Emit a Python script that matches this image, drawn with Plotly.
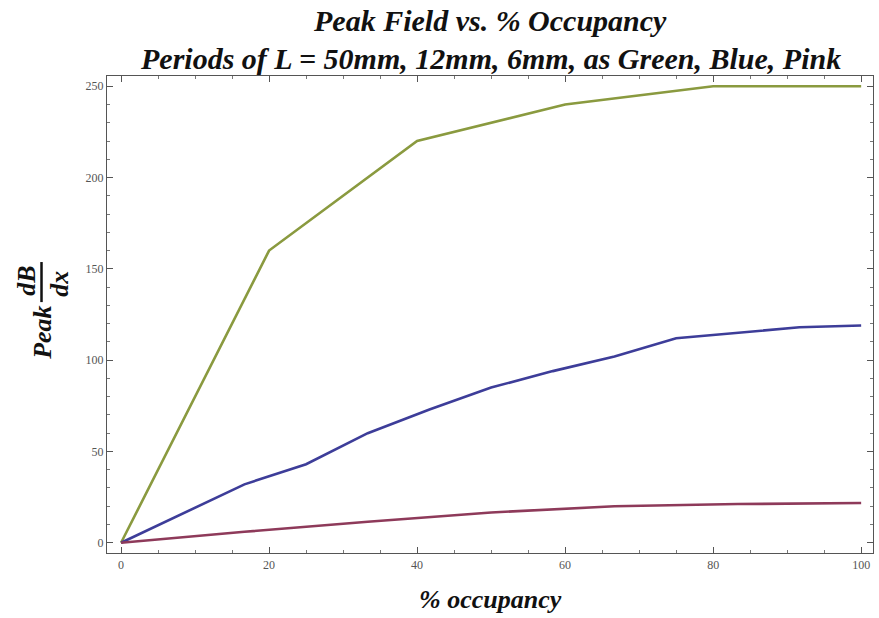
import plotly.graph_objects as go

# Occupancy (%) sampled at k/N of each period
occ_50mm = [0, 20, 40, 60, 80, 100]
occ_12mm = [0, 8.33, 16.67, 25, 33.33, 41.67, 50, 58.33, 66.67, 75, 83.33, 91.67, 100]
occ_6mm = [0, 16.67, 33.33, 50, 66.67, 83.33, 100]

# Peak dB/dx values
peak_50mm = [0, 160, 220, 240, 250, 250]
peak_12mm = [0, 16, 32, 43, 60, 73, 85, 94, 102, 112, 115, 118, 119]
peak_6mm = [0, 6, 11.5, 16.6, 20, 21.2, 21.8]

x_ticks = [0, 20, 40, 60, 80, 100]
y_ticks = [0, 50, 100, 150, 200, 250]

GREEN = "#8a9a3f"
BLUE = "#3d3d99"
PINK = "#8e3a5a"
SERIF = "Liberation Serif, Times New Roman, serif"

fig = go.Figure()
for xs, ys, col in [(occ_50mm, peak_50mm, GREEN),
                    (occ_12mm, peak_12mm, BLUE),
                    (occ_6mm, peak_6mm, PINK)]:
    fig.add_trace(go.Scatter(x=xs, y=ys, mode="lines",
                             line=dict(color=col, width=2.6),
                             showlegend=False, hoverinfo="skip"))

axis_common = dict(
    showgrid=False, zeroline=False, showline=True, linecolor="#555555",
    linewidth=1.2, mirror="allticks", ticks="inside", ticklen=6,
    tickcolor="#555555", tickwidth=1,
    tickfont=dict(family=SERIF, size=12, color="#555555"),
)

fig.update_xaxes(range=[-1.9, 101.6], tickvals=x_ticks,
                 minor=dict(dtick=5, ticks="inside", ticklen=3, tickcolor="#777777"),
                 **axis_common)
fig.update_yaxes(range=[-5.6, 255.6], tickvals=y_ticks,
                 minor=dict(dtick=10, ticks="inside", ticklen=3, tickcolor="#777777"),
                 **axis_common)

fig.update_layout(
    width=879, height=618,
    margin=dict(l=107, r=6, t=76, b=65),
    plot_bgcolor="white", paper_bgcolor="white",
)

title_font = dict(family=SERIF, size=30, color="#111111")
fig.add_annotation(text="<b><i>Peak Field vs. % Occupancy</i></b>",
                   xref="paper", yref="paper", x=0.5, y=1, yshift=56,
                   showarrow=False, font=title_font, yanchor="middle")
fig.add_annotation(text="<b><i>Periods of L = 50mm, 12mm, 6mm, as Green, Blue, Pink</i></b>",
                   xref="paper", yref="paper", x=0.5, y=1, yshift=18,
                   showarrow=False, font=title_font, yanchor="middle")

# x-axis title
fig.add_annotation(text="<b><i>% occupancy</i></b>",
                   xref="paper", yref="paper", x=0.5, y=0, yshift=-46,
                   showarrow=False, font=dict(family=SERIF, size=26, color="#111111"),
                   yanchor="middle")

# y-axis title: "Peak" followed by the fraction dB/dx, all rotated
label_font = dict(family=SERIF, size=26, color="#111111")
fig.add_annotation(text="<b><i>Peak</i></b>", xref="paper", yref="paper",
                   x=0, xshift=-64, y=0.47, yshift=-4, textangle=-90,
                   showarrow=False, font=label_font,
                   xanchor="center", yanchor="middle")
fig.add_annotation(text="<b><i>dB</i></b>", xref="paper", yref="paper",
                   x=0, xshift=-80, y=0.47, yshift=48, textangle=-90,
                   showarrow=False, font=label_font,
                   xanchor="center", yanchor="middle")
fig.add_annotation(text="<b><i>dx</i></b>", xref="paper", yref="paper",
                   x=0, xshift=-47, y=0.47, yshift=45, textangle=-90,
                   showarrow=False, font=label_font,
                   xanchor="center", yanchor="middle")
fig.add_shape(type="line", xref="paper", yref="paper",
              x0=-0.0855, x1=-0.0855, y0=0.526, y1=0.610,
              line=dict(color="#111111", width=2.5))

fig.write_html("out.html")
